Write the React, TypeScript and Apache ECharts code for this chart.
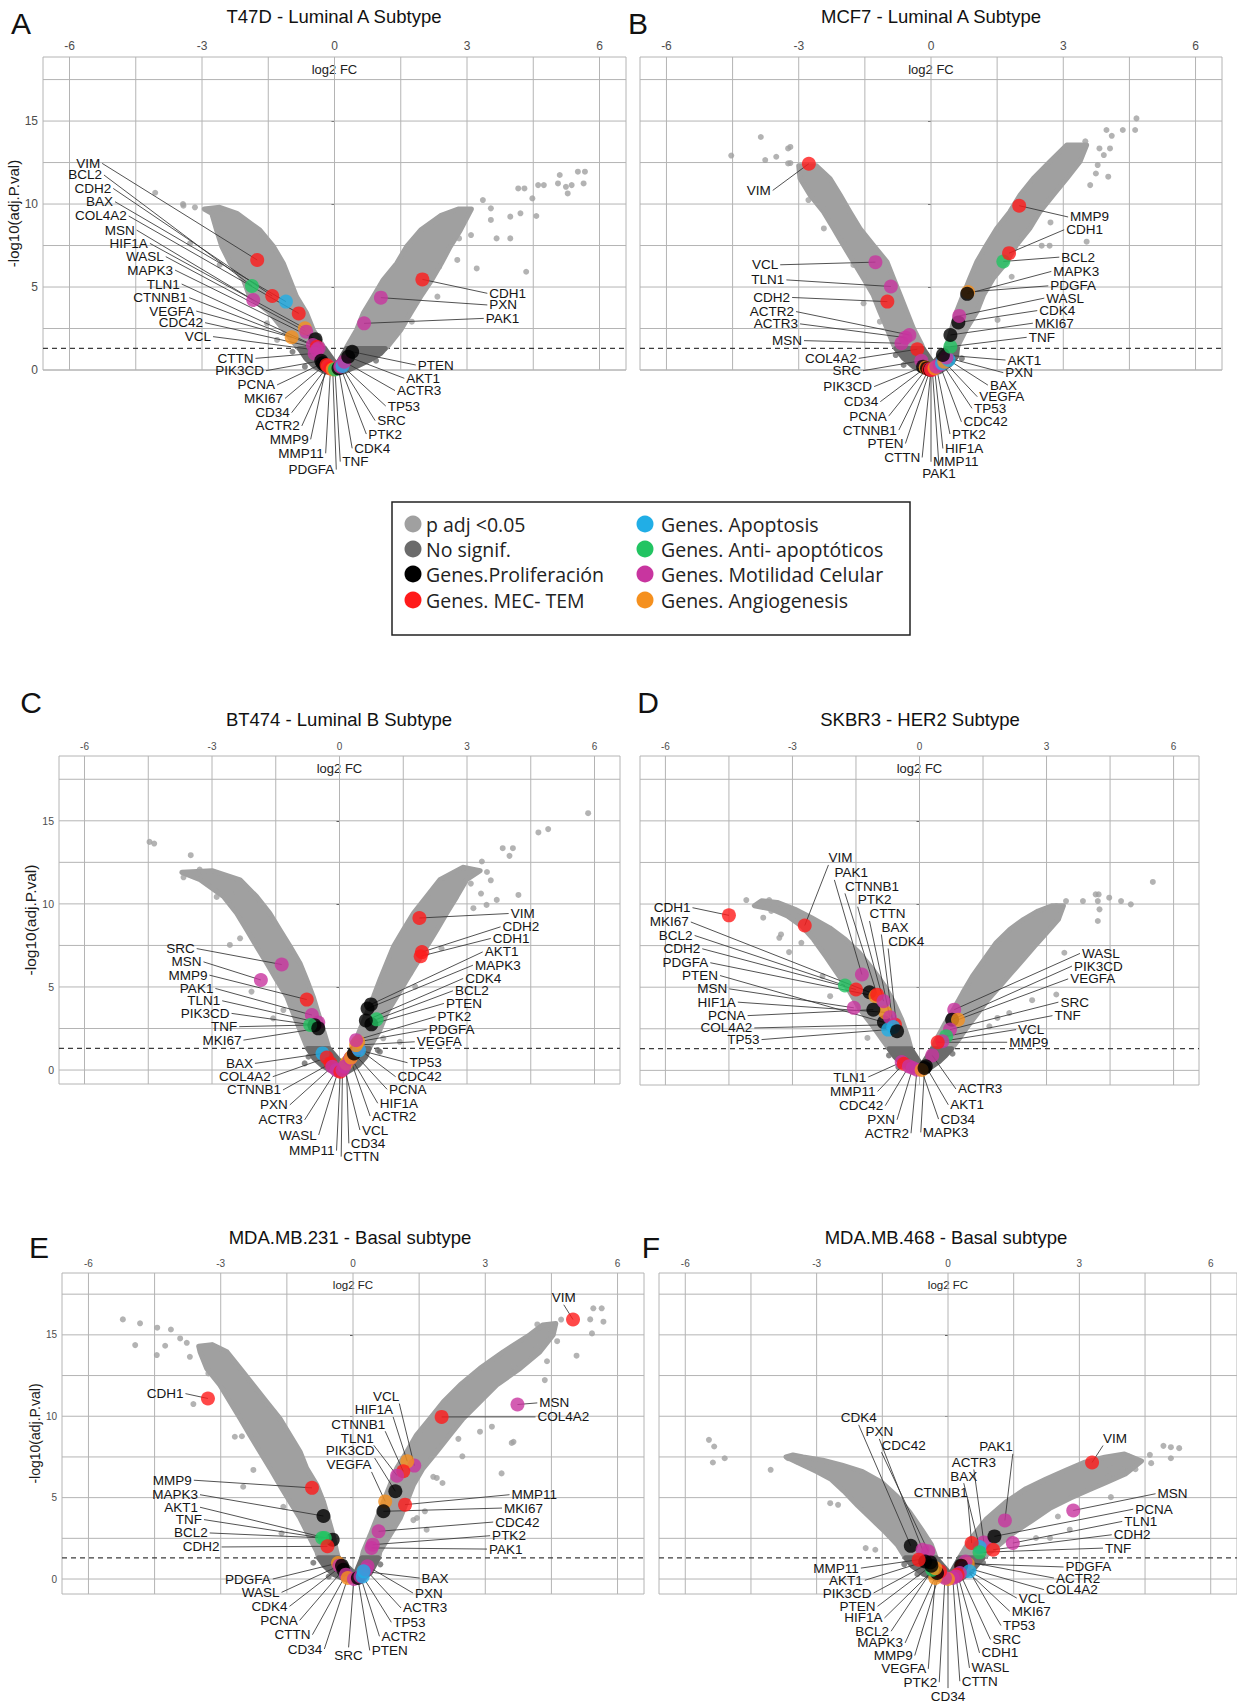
import React, { useEffect, useRef } from "react";
import * as echarts from "echarts";

type Gene = [string, number, number];
type Lab = [number, number, string];
type Pt = [number, number];

// ---------- shared scales / categories ----------
const X_LABELS = [-6, -3, 0, 3, 6];
const X_GRID = [-6, -4.5, -3, -1.5, 0, 1.5, 3, 4.5, 6];
const Y_LABELS = [0, 5, 10, 15];
const Y_GRID = [0, 2.5, 5, 7.5, 10, 12.5, 15, 17.5];
const P_CUT = 1.301;
const X_MIN = -6.6;
const X_MAX = 6.6;
const Y_NAME = "-log10(adj.P.val)";
const X_NAME = "log2 FC";

const CATEGORIES = [
  "p adj <0.05",
  "No signif.",
  "Genes.Proliferación",
  "Genes. MEC- TEM",
  "Genes. Apoptosis",
  "Genes. Anti- apoptóticos",
  "Genes. Motilidad Celular",
  "Genes. Angiogenesis",
];

const GENE_CATEGORY: Record<string, number> = {
  MAPK3: 2, AKT1: 2, PIK3CD: 2, MKI67: 2, CDK4: 2, PCNA: 2, PTEN: 2,
  VIM: 3, CDH1: 3, CDH2: 3, MMP9: 3, MMP11: 3, COL4A2: 3, CTNNB1: 3,
  BAX: 4, TP53: 4,
  BCL2: 5, TNF: 5,
  MSN: 6, VCL: 6, TLN1: 6, PAK1: 6, PTK2: 6, CDC42: 6, PXN: 6, WASL: 6, ACTR2: 6, ACTR3: 6, CTTN: 6, SRC: 6,
  VEGFA: 7, HIF1A: 7, PDGFA: 7, CD34: 7,
};

// ---------- Panel A : T47D ----------
const A_GENES: Gene[] = [
  ["VIM", -1.75, 6.63], ["BCL2", -1.87, 5.06], ["CDH2", -1.41, 4.46], ["BAX", -1.10, 4.12], ["COL4A2", -0.81, 3.41],
  ["MSN", -1.84, 4.22], ["HIF1A", -0.67, 2.51], ["WASL", -0.64, 2.31], ["MAPK3", -0.43, 1.85], ["TLN1", -0.49, 1.51],
  ["CTNNB1", -0.40, 1.40], ["VEGFA", -0.97, 1.97], ["CDC42", -0.36, 1.31], ["VCL", -0.40, 1.20], ["CTTN", -0.45, 1.00],
  ["PIK3CD", -0.30, 0.56], ["PCNA", -0.27, 0.40], ["MKI67", -0.22, 0.30], ["CD34", -0.15, 0.24], ["ACTR2", -0.13, 0.20],
  ["MMP9", -0.18, 0.30], ["MMP11", -0.09, 0.10], ["PDGFA", -0.04, 0.04], ["TNF", 0.01, 0.04], ["CDK4", 0.09, 0.10],
  ["PTK2", 0.13, 0.20], ["SRC", 0.15, 0.24], ["TP53", 0.18, 0.24], ["ACTR3", 0.22, 0.50], ["AKT1", 0.31, 0.80],
  ["PTEN", 0.40, 1.10], ["CDH1", 1.99, 5.46], ["PXN", 1.05, 4.36], ["PAK1", 0.67, 2.81],
];
const A_LABELS: Lab[] = [
  [-5.26, 12.45, "l"], [-5.22, 11.75, "l"], [-5.01, 10.94, "l"], [-4.97, 10.14, "l"], [-4.66, 9.28, "l"],
  [-4.48, 8.43, "l"], [-4.18, 7.63, "l"], [-3.82, 6.83, "l"], [-3.61, 6.02, "l"], [-3.46, 5.18, "l"],
  [-3.29, 4.36, "l"], [-3.13, 3.55, "l"], [-2.93, 2.85, "l"], [-2.75, 2.01, "l"], [-1.79, 0.70, "l"],
  [-1.55, -0.04, "l"], [-1.30, -0.90, "l"], [-1.12, -1.71, "l"], [-0.97, -2.57, "l"], [-0.74, -3.37, "l"],
  [-0.54, -4.18, "l"], [-0.20, -5.02, "l"], [0.04, -6.0, "l"], [0.13, -5.52, "r"], [0.40, -4.72, "r"],
  [0.72, -3.86, "r"], [0.92, -3.05, "r"], [1.16, -2.17, "r"], [1.37, -1.24, "r"], [1.58, -0.50, "r"],
  [1.84, 0.30, "r"], [3.46, 4.62, "r"], [3.46, 3.92, "r"], [3.38, 3.11, "r"],
];
const A_SIG_LEFT: Pt[] = [
  [-2.95, 9.70], [-2.78, 9.44], [-2.67, 8.43], [-2.55, 7.43], [-2.36, 6.43], [-2.06, 5.42], [-1.92, 4.42], [-1.45, 3.41],
  [-1.15, 2.41], [-0.85, 1.40], [-0.80, 1.30], [-0.22, 1.30], [-0.25, 1.40], [-0.48, 2.41], [-0.63, 3.41], [-0.86, 4.42],
  [-1.01, 5.42], [-1.16, 6.43], [-1.38, 7.43], [-1.69, 8.43], [-2.21, 9.44], [-2.60, 9.80],
];
const A_SIG_RIGHT: Pt[] = [
  [3.10, 9.70], [2.85, 8.43], [2.62, 7.43], [2.42, 6.43], [2.20, 5.42], [1.95, 4.42], [1.72, 3.41], [1.50, 2.41],
  [1.20, 1.40], [1.15, 1.30], [0.27, 1.30], [0.28, 1.40], [0.50, 2.41], [0.65, 3.41], [0.88, 4.42], [1.10, 5.42],
  [1.41, 6.43], [1.63, 7.43], [1.95, 8.43], [2.40, 9.30], [2.80, 9.70],
];
const A_NS: Pt[] = [
  [-0.80, 1.30], [-0.65, 0.70], [-0.45, 0.20], [-0.22, -0.10], [0, -0.16], [0.22, -0.10], [0.49, 0.20], [0.80, 0.60],
  [1.05, 1.0], [1.15, 1.30], [0.27, 1.30], [0.05, 0.30], [-0.22, 1.30],
];
const A_OUT: Pt[] = [
  [-4.06, 10.68], [-3.43, 10.0], [-3.16, 9.8], [-3.42, 9.9], [-3.27, 7.63], [-2.6, 6.33], [-1.53, 2.81], [-1.3, 1.81],
  [3.22, 6.12], [2.82, 7.93], [3.09, 8.13], [3.36, 10.24], [3.54, 9.74], [3.54, 9.04], [3.67, 7.93], [3.98, 7.93],
  [3.98, 9.24], [4.21, 9.44], [4.57, 9.28], [4.16, 10.94], [4.30, 10.94], [4.48, 10.34], [4.61, 11.14], [4.74, 11.14],
  [5.06, 11.24], [5.10, 11.75], [5.24, 11.04], [5.28, 10.64], [5.37, 11.14], [5.51, 11.95], [5.67, 11.95], [5.64, 11.24],
  [4.34, 5.92], [2.33, 4.42], [1.75, 2.91], [1.84, 4.62], [2.78, 6.63], [2.37, 6.22],
];
const A_NS_OUT: Pt[] = [[-0.67, 0.20], [0.94, 0.56], [-0.95, 1.1], [0.88, 0.9]];

// ---------- Panel B : MCF7 ----------
const B_GENES: Gene[] = [
  ["VIM", -2.77, 12.43], ["VCL", -1.26, 6.50], ["TLN1", -0.91, 5.03], ["CDH2", -0.99, 4.12], ["ACTR2", -0.49, 2.11],
  ["ACTR3", -0.58, 1.95], ["MSN", -0.67, 1.61], ["COL4A2", -0.31, 1.25], ["SRC", -0.22, 0.56], ["PIK3CD", -0.18, 0.20],
  ["CD34", -0.12, 0.15], ["PCNA", -0.09, 0.10], ["CTNNB1", -0.05, 0.05], ["PTEN", -0.02, 0.02], ["CTTN", 0.0, 0.05],
  ["PAK1", 0.03, 0.02], ["MMP11", 0.0, 0.0], ["HIF1A", 0.08, 0.10], ["PTK2", 0.12, 0.20], ["CDC42", 0.20, 0.30],
  ["TP53", 0.25, 0.40], ["VEGFA", 0.30, 0.50], ["BAX", 0.40, 0.60], ["PXN", 0.35, 0.75], ["AKT1", 0.27, 0.91],
  ["TNF", 0.44, 1.41], ["MKI67", 0.44, 2.11], ["CDK4", 0.62, 2.86], ["WASL", 0.64, 3.26], ["PDGFA", 0.84, 4.70],
  ["MAPK3", 0.82, 4.59], ["BCL2", 1.64, 6.54], ["CDH1", 1.77, 7.04], ["MMP9", 2.00, 9.90],
];
const B_LABELS: Lab[] = [
  [-3.59, 10.82, "l"], [-3.42, 6.34, "l"], [-3.28, 5.43, "l"], [-3.15, 4.37, "l"], [-3.06, 3.52, "l"],
  [-2.97, 2.78, "l"], [-2.88, 1.77, "l"], [-1.64, 0.70, "l"], [-1.54, -0.04, "l"], [-1.29, -1.00, "l"],
  [-1.15, -1.91, "l"], [-0.96, -2.78, "l"], [-0.73, -3.62, "l"], [-0.58, -4.43, "l"], [-0.20, -5.27, "l"],
  [0.18, -5.73, "b"], [0.0, -5.53, "r"], [0.27, -4.73, "r"], [0.43, -3.86, "r"], [0.69, -3.12, "r"],
  [0.93, -2.31, "r"], [1.05, -1.61, "r"], [1.29, -0.91, "r"], [1.64, -0.16, "r"], [1.69, 0.60, "r"],
  [2.17, 1.97, "r"], [2.31, 2.82, "r"], [2.41, 3.58, "r"], [2.57, 4.33, "r"], [2.66, 5.07, "r"],
  [2.73, 5.94, "r"], [2.91, 6.80, "r"], [3.02, 8.45, "r"], [3.11, 9.22, "r"],
];
const B_SIG_LEFT: Pt[] = [
  [-3.00, 12.30], [-2.97, 11.54], [-2.74, 10.54], [-2.44, 9.54], [-2.21, 8.53], [-1.99, 7.53], [-1.76, 6.52], [-1.53, 5.52],
  [-1.31, 4.52], [-1.16, 3.51], [-1.00, 2.51], [-0.85, 1.51], [-0.80, 1.30], [-0.18, 1.30], [-0.21, 1.51], [-0.40, 2.51],
  [-0.55, 3.51], [-0.70, 4.52], [-0.85, 5.52], [-1.00, 6.52], [-1.31, 7.53], [-1.61, 8.53], [-1.84, 9.54], [-2.06, 10.54],
  [-2.29, 11.54], [-2.60, 12.30],
];
const B_SIG_RIGHT: Pt[] = [
  [3.53, 13.55], [3.38, 12.56], [3.08, 11.54], [2.77, 10.54], [2.47, 9.54], [2.24, 8.53], [1.94, 7.53], [1.72, 6.52],
  [1.41, 5.52], [1.19, 4.52], [1.04, 3.51], [0.81, 2.51], [0.62, 1.51], [0.60, 1.30], [0.34, 1.30], [0.36, 1.51],
  [0.47, 2.51], [0.58, 3.51], [0.73, 4.52], [0.88, 5.52], [1.04, 6.52], [1.26, 7.53], [1.49, 8.53], [1.79, 9.54],
  [2.02, 10.54], [2.32, 11.54], [2.70, 12.56], [3.08, 13.55],
];
const B_NS: Pt[] = [
  [-0.80, 1.30], [-0.62, 0.70], [-0.40, 0.20], [-0.15, -0.10], [0, -0.15], [0.20, -0.10], [0.42, 0.30], [0.58, 0.80],
  [0.60, 1.30], [0.34, 1.30], [0.05, 0.40], [-0.18, 1.30],
];
const B_OUT: Pt[] = [
  [-4.53, 12.92], [-3.86, 14.04], [-3.76, 12.65], [-3.51, 12.85], [-3.24, 13.35], [-3.24, 12.45], [-3.19, 13.44],
  [-3.19, 12.47], [-2.88, 11.47], [-2.78, 10.24], [-2.41, 9.66], [-2.43, 8.53], [-1.99, 7.73], [-1.76, 6.33],
  [-1.53, 5.62], [-1.53, 4.02], [-1.16, 2.91], [4.66, 15.16], [4.63, 14.46], [4.35, 14.46], [3.98, 14.46], [4.10, 14.11],
  [4.06, 13.35], [3.82, 13.35], [3.92, 12.95], [3.78, 12.35], [4.02, 11.65], [3.61, 11.14], [3.74, 11.84], [3.50, 13.78],
  [2.71, 8.89], [2.51, 7.49], [2.69, 7.49], [3.53, 7.73], [1.83, 5.62], [1.51, 3.02],
];
const B_NS_OUT: Pt[] = [[-0.8, 0.9], [0.7, 0.7], [-0.62, 0.3]];

// ---------- Panel C : BT474 ----------
const C_GENES: Gene[] = [
  ["SRC", -1.36, 6.35], ["MSN", -1.85, 5.42], ["MMP9", -0.77, 4.24], ["PAK1", -0.65, 3.31], ["TLN1", -0.50, 2.86],
  ["PIK3CD", -0.59, 2.70], ["TNF", -0.69, 2.71], ["MKI67", -0.50, 2.51], ["BAX", -0.40, 1.00], ["COL4A2", -0.30, 0.75],
  ["CTNNB1", -0.21, 0.40], ["PXN", -0.17, 0.20], ["ACTR3", -0.07, 0.00], ["WASL", -0.03, -0.04], ["MMP11", 0.02, -0.10],
  ["CTTN", 0.07, 0.00], ["CD34", 0.16, 0.40], ["VCL", 0.11, 0.20], ["ACTR2", 0.25, 0.70], ["HIF1A", 0.27, 0.75],
  ["PCNA", 0.34, 1.00], ["CDC42", 0.44, 1.30], ["TP53", 0.46, 1.20], ["VEGFA", 0.39, 1.50], ["PDGFA", 0.44, 1.70],
  ["PTK2", 0.39, 1.80], ["PTEN", 0.75, 2.75], ["BCL2", 0.875, 3.05], ["CDK4", 0.62, 2.98], ["MAPK3", 0.66, 3.70],
  ["AKT1", 0.74, 3.95], ["CDH1", 1.91, 6.85], ["CDH2", 1.94, 7.10], ["VIM", 1.88, 9.15],
];
const C_LABELS: Lab[] = [
  [-3.36, 7.31, "l"], [-3.20, 6.51, "l"], [-3.06, 5.71, "l"], [-2.92, 4.91, "l"], [-2.76, 4.17, "l"],
  [-2.54, 3.41, "l"], [-2.36, 2.61, "l"], [-2.26, 1.80, "l"], [-1.99, 0.40, "l"], [-1.57, -0.40, "l"],
  [-1.33, -1.20, "l"], [-1.17, -2.10, "l"], [-0.82, -3.00, "l"], [-0.49, -3.91, "l"], [-0.07, -4.85, "l"],
  [0.04, -5.21, "r"], [0.22, -4.41, "r"], [0.48, -3.61, "r"], [0.72, -2.77, "r"], [0.90, -2.00, "r"],
  [1.12, -1.16, "r"], [1.32, -0.40, "r"], [1.60, 0.44, "r"], [1.77, 1.70, "r"], [2.05, 2.44, "r"],
  [2.26, 3.21, "r"], [2.46, 4.01, "r"], [2.67, 4.77, "r"], [2.91, 5.51, "r"], [3.14, 6.31, "r"],
  [3.37, 7.11, "r"], [3.56, 7.92, "r"], [3.79, 8.62, "r"], [3.98, 9.42, "r"],
];
const C_SIG_LEFT: Pt[] = [
  [-3.71, 11.90], [-3.28, 11.45], [-2.73, 10.44], [-2.42, 9.44], [-2.18, 8.43], [-1.95, 7.43], [-1.71, 6.43], [-1.48, 5.42],
  [-1.24, 4.42], [-1.09, 3.42], [-0.93, 2.41], [-0.77, 1.40], [-0.75, 1.30], [-0.25, 1.30], [-0.26, 1.40], [-0.38, 2.41],
  [-0.50, 3.42], [-0.62, 4.42], [-0.77, 5.42], [-0.93, 6.43], [-1.16, 7.43], [-1.40, 8.43], [-1.64, 9.44], [-1.95, 10.44],
  [-2.34, 11.45], [-3.00, 12.00],
];
const C_SIG_RIGHT: Pt[] = [
  [3.31, 12.00], [2.99, 11.45], [2.76, 10.44], [2.52, 9.44], [2.29, 8.43], [2.05, 7.43], [1.82, 6.43], [1.58, 5.42],
  [1.35, 4.42], [1.11, 3.42], [0.95, 2.41], [0.72, 1.40], [0.70, 1.30], [0.30, 1.30], [0.32, 1.40], [0.48, 2.41],
  [0.64, 3.42], [0.80, 4.42], [0.95, 5.42], [1.11, 6.43], [1.27, 7.43], [1.50, 8.43], [1.74, 9.44], [2.05, 10.44],
  [2.36, 11.45], [2.90, 12.20],
];
const C_NS: Pt[] = [
  [-0.75, 1.30], [-0.60, 0.70], [-0.40, 0.25], [-0.15, -0.10], [0, -0.20], [0.20, -0.10], [0.45, 0.30], [0.62, 0.80],
  [0.70, 1.30], [0.30, 1.30], [0.05, 0.40], [-0.25, 1.30],
];
const C_OUT: Pt[] = [
  [-4.47, 13.73], [-4.36, 13.63], [-3.50, 12.93], [-3.67, 11.60], [-3.43, 11.86], [-3.29, 12.06], [-3.20, 11.92],
  [-2.58, 7.53], [-2.34, 7.93], [-2.07, 4.72], [-1.32, 3.61], [-1.56, 3.11], [-2.42, 10.72], [-2.89, 10.42],
  [5.85, 15.46], [4.68, 14.30], [4.91, 14.50], [3.84, 13.35], [4.08, 13.35], [4.00, 12.89], [3.35, 12.55], [3.47, 11.92],
  [3.56, 11.42], [3.09, 11.22], [3.33, 10.62], [4.21, 10.54], [3.70, 10.24], [3.15, 9.74], [3.46, 9.94], [2.40, 7.33],
  [2.05, 7.03], [1.66, 5.82], [1.78, 5.02], [1.03, 1.91], [1.42, 1.70],
];
const C_NS_OUT: Pt[] = [[-0.73, 0.80], [-0.82, 0.40], [0.90, 1.2], [0.95, 1.1]];

// ---------- Panel D : SKBR3 ----------
const D_GENES: Gene[] = [
  ["CDH1", -4.50, 9.32], ["MKI67", -1.18, 4.70], ["BCL2", -1.76, 5.10], ["CDH2", -1.50, 4.86], ["PDGFA", -1.04, 4.46],
  ["PTEN", -0.84, 2.89], ["MSN", -1.55, 3.76], ["HIF1A", -0.81, 3.49], ["PCNA", -1.09, 3.65], ["COL4A2", -0.58, 2.75],
  ["TP53", -0.74, 2.45], ["VIM", -2.71, 8.71], ["PAK1", -1.36, 5.76], ["CTNNB1", -1.00, 4.55], ["PTK2", -0.85, 4.16],
  ["CTTN", -0.70, 3.20], ["BAX", -0.62, 2.60], ["CDK4", -0.53, 2.35], ["WASL", 0.82, 3.65], ["PIK3CD", 0.77, 3.05],
  ["VEGFA", 0.91, 3.05], ["SRC", 0.72, 2.45], ["TNF", 0.63, 2.05], ["VCL", 0.54, 1.75], ["MMP9", 0.43, 1.69],
  ["TLN1", -0.42, 0.50], ["MMP11", -0.37, 0.40], ["CDC42", -0.25, 0.24], ["PXN", -0.16, 0.14], ["ACTR2", -0.06, 0.04],
  ["ACTR3", 0.30, 0.90], ["AKT1", 0.15, 0.24], ["CD34", 0.05, 0.02], ["MAPK3", 0.12, 0.14],
];
const D_LABELS: Lab[] = [
  [-5.36, 9.78, "l"], [-5.40, 8.92, "l"], [-5.31, 8.11, "l"], [-5.13, 7.31, "l"], [-4.94, 6.47, "l"],
  [-4.71, 5.70, "l"], [-4.49, 4.90, "l"], [-4.29, 4.10, "l"], [-4.06, 3.29, "l"], [-3.90, 2.55, "l"],
  [-3.73, 1.85, "l"], [-2.15, 12.35, "tr"], [-2.01, 11.45, "tr"], [-1.76, 10.64, "tr"], [-1.46, 9.84, "tr"],
  [-1.18, 8.98, "tr"], [-0.90, 8.17, "tr"], [-0.74, 7.33, "tr"], [3.79, 7.03, "r"], [3.60, 6.27, "r"],
  [3.51, 5.50, "r"], [3.28, 4.10, "r"], [3.14, 3.29, "r"], [2.28, 2.45, "r"], [2.07, 1.69, "r"],
  [-1.21, -0.40, "l"], [-0.99, -1.27, "l"], [-0.81, -2.13, "l"], [-0.53, -2.97, "l"], [-0.20, -3.78, "l"],
  [0.86, -1.12, "r"], [0.68, -2.07, "r"], [0.45, -2.93, "r"], [0.03, -3.73, "r"],
];
const D_SIG_LEFT: Pt[] = [
  [-3.90, 9.90], [-3.50, 9.70], [-3.12, 9.28], [-2.78, 8.67], [-2.50, 7.87], [-2.22, 6.87], [-1.95, 5.86], [-1.68, 4.86],
  [-1.40, 3.65], [-1.10, 2.65], [-0.85, 1.75], [-0.72, 1.30], [-0.20, 1.30], [-0.28, 2.05], [-0.42, 3.05], [-0.60, 4.06],
  [-0.82, 5.06], [-1.10, 6.06], [-1.42, 7.07], [-1.75, 7.87], [-2.12, 8.57], [-2.55, 9.18], [-2.94, 9.68], [-3.36, 10.10],
  [-3.73, 10.20],
];
const D_SIG_RIGHT: Pt[] = [
  [3.40, 9.90], [3.28, 9.08], [3.00, 8.27], [2.72, 7.47], [2.45, 6.67], [2.17, 5.86], [1.90, 5.06], [1.62, 4.26],
  [1.38, 3.45], [1.14, 2.65], [0.95, 1.95], [0.76, 1.30], [0.30, 1.30], [0.44, 2.05], [0.61, 2.85], [0.80, 3.65],
  [1.02, 4.66], [1.25, 5.66], [1.53, 6.67], [1.81, 7.67], [2.13, 8.47], [2.46, 9.08], [2.80, 9.58], [3.14, 9.90],
];
const D_NS: Pt[] = [
  [-0.72, 1.30], [-0.58, 0.80], [-0.42, 0.40], [-0.20, 0.05], [0, -0.10], [0.20, 0.05], [0.45, 0.50], [0.62, 0.90],
  [0.76, 1.30], [0.30, 1.30], [0.05, 0.30], [-0.20, 1.30],
];
const D_OUT: Pt[] = [
  [-4.09, 10.24], [-3.55, 10.24], [-3.69, 9.18], [-3.50, 9.58], [-3.36, 9.68], [-3.27, 8.17], [-3.31, 7.97], [-3.08, 7.11],
  [-2.79, 7.67], [-2.29, 5.66], [-2.11, 4.46], [-1.23, 1.95], [5.51, 11.33], [4.16, 10.58], [4.23, 10.58], [4.48, 10.38],
  [4.76, 10.18], [4.99, 9.98], [4.21, 10.18], [4.25, 9.68], [3.86, 10.18], [3.46, 10.18], [3.23, 9.88], [4.21, 8.98],
  [3.42, 7.07], [3.23, 4.56], [2.66, 4.22], [2.12, 3.45], [1.84, 3.15], [1.65, 2.65],
];
const D_NS_OUT: Pt[] = [[-0.72, 0.9], [0.78, 1.0], [-0.5, 0.2]];

// ---------- Panel E : MDA.MB.231 ----------
const E_GENES: Gene[] = [
  ["CDH1", -3.29, 11.09], ["MMP9", -0.93, 5.60], ["MAPK3", -0.67, 3.87], ["AKT1", -0.46, 2.42], ["TNF", -0.70, 2.52],
  ["BCL2", -0.64, 2.52], ["CDH2", -0.58, 2.01], ["VCL", 1.39, 6.97], ["HIF1A", 1.23, 7.23], ["CTNNB1", 1.14, 6.62],
  ["TLN1", 1.00, 6.35], ["PIK3CD", 0.96, 5.39], ["VEGFA", 0.73, 4.77], ["VIM", 4.99, 15.94], ["MSN", 3.73, 10.72],
  ["COL4A2", 2.01, 9.96], ["MMP11", 1.18, 4.57], ["MKI67", 0.69, 4.16], ["CDC42", 0.58, 2.93], ["PTK2", 0.45, 2.11],
  ["PAK1", 0.42, 1.91], ["PDGFA", -0.34, 0.98], ["WASL", -0.31, 0.82], ["CDK4", -0.25, 0.82], ["PCNA", -0.22, 0.57],
  ["CTTN", -0.16, 0.27], ["CD34", -0.12, 0.06], ["SRC", 0.02, 0.00], ["PTEN", 0.11, 0.06], ["ACTR2", 0.17, 0.16],
  ["TP53", 0.22, 0.16], ["ACTR3", 0.29, 0.57], ["PXN", 0.33, 0.78], ["BAX", 0.24, 0.47],
];
const E_LABELS: Lab[] = [
  [-3.80, 11.39, "l"], [-3.61, 6.07, "l"], [-3.47, 5.18, "l"], [-3.47, 4.41, "l"], [-3.38, 3.65, "l"],
  [-3.25, 2.83, "l"], [-2.98, 1.97, "l"], [1.05, 10.78, "tl"], [0.91, 9.96, "tl"], [0.73, 9.08, "tl"],
  [0.47, 8.22, "tl"], [0.49, 7.44, "tl"], [0.42, 6.58, "tl"], [4.78, 16.85, "t"], [4.18, 10.82, "r"],
  [4.14, 9.96, "r"], [3.55, 5.18, "r"], [3.38, 4.36, "r"], [3.18, 3.50, "r"], [3.11, 2.66, "r"],
  [3.04, 1.84, "r"], [-1.82, 0.00, "l"], [-1.62, -0.82, "l"], [-1.44, -1.68, "l"], [-1.21, -2.54, "l"],
  [-0.92, -3.42, "l"], [-0.65, -4.30, "l"], [-0.10, -4.20, "b"], [0.38, -4.39, "r"], [0.60, -3.52, "r"],
  [0.87, -2.66, "r"], [1.09, -1.78, "r"], [1.36, -0.86, "r"], [1.51, 0.06, "r"],
];
const E_SIG_LEFT: Pt[] = [
  [-3.50, 14.30], [-3.47, 13.96], [-3.32, 12.94], [-3.02, 11.92], [-2.79, 10.89], [-2.56, 9.87], [-2.34, 8.85],
  [-2.11, 7.82], [-1.88, 6.80], [-1.66, 5.77], [-1.43, 4.75], [-1.20, 3.73], [-1.01, 2.70], [-0.82, 1.68], [-0.78, 1.30],
  [-0.33, 1.30], [-0.37, 1.68], [-0.45, 2.70], [-0.56, 3.73], [-0.67, 4.75], [-0.82, 5.77], [-1.05, 6.80], [-1.20, 7.82],
  [-1.43, 8.85], [-1.66, 9.87], [-1.96, 10.89], [-2.26, 11.92], [-2.56, 12.94], [-2.86, 13.96], [-3.20, 14.40],
];
const E_SIG_RIGHT: Pt[] = [
  [4.60, 15.70], [4.54, 15.00], [4.24, 13.96], [3.79, 12.94], [3.26, 11.92], [2.88, 10.89], [2.50, 9.87], [2.20, 8.85],
  [1.90, 7.82], [1.59, 6.80], [1.37, 5.77], [1.22, 4.75], [1.07, 3.73], [0.84, 2.70], [0.61, 1.68], [0.58, 1.30],
  [0.20, 1.30], [0.23, 1.68], [0.39, 2.70], [0.54, 3.73], [0.69, 4.75], [0.84, 5.77], [0.99, 6.80], [1.22, 7.82],
  [1.44, 8.85], [1.75, 9.87], [2.05, 10.89], [2.43, 11.92], [2.88, 12.94], [3.41, 13.96], [4.01, 15.00], [4.30, 15.60],
];
const E_NS: Pt[] = [
  [-0.78, 1.30], [-0.65, 0.80], [-0.45, 0.30], [-0.20, 0.0], [0, -0.15], [0.20, -0.05], [0.40, 0.40], [0.58, 1.30],
  [0.20, 1.30], [0.05, 0.30], [-0.33, 1.30],
];
const E_OUT: Pt[] = [
  [-5.22, 15.95], [-4.83, 15.71], [-4.44, 15.44], [-4.94, 14.37], [-4.45, 13.76], [-4.26, 14.33], [-3.92, 14.78],
  [-3.70, 13.65], [-4.13, 15.33], [-3.77, 14.51], [-3.62, 10.75], [-3.28, 12.63], [-2.68, 8.74], [-2.26, 6.70],
  [-2.49, 5.67], [-1.62, 2.81], [-1.58, 4.44], [-2.52, 8.77], [5.45, 16.63], [5.64, 16.63], [5.38, 15.95], [5.68, 15.81],
  [5.42, 15.09], [5.07, 13.72], [4.63, 14.61], [4.49, 15.33], [4.18, 15.64], [4.72, 15.94], [4.40, 13.38], [4.35, 12.22],
  [4.17, 14.27], [3.64, 13.07], [3.64, 8.43], [3.37, 6.49], [2.88, 9.05], [3.15, 9.36], [3.60, 8.36], [2.39, 8.61],
  [2.48, 7.54], [1.90, 6.21], [1.82, 6.28], [2.03, 5.90], [1.63, 4.16], [1.67, 3.03], [1.45, 3.75], [1.37, 3.62],
];
const E_NS_OUT: Pt[] = [[-0.9, 1.0], [0.62, 0.9], [-0.55, 0.15]];

// ---------- Panel F : MDA.MB.468 ----------
const F_GENES: Gene[] = [
  ["CDK4", -0.85, 2.04], ["PXN", -0.58, 1.80], ["CDC42", -0.45, 1.70], ["PAK1", 1.30, 3.60], ["ACTR3", 0.82, 2.25],
  ["BAX", 0.72, 1.96], ["CTNNB1", 0.54, 2.21], ["VIM", 3.29, 7.16], ["MSN", 2.86, 4.21], ["PCNA", 1.06, 2.62],
  ["TLN1", 1.48, 2.21], ["CDH2", 1.03, 1.80], ["TNF", 0.72, 1.64], ["PDGFA", 0.45, 0.94], ["ACTR2", 0.40, 1.08],
  ["COL4A2", 0.31, 0.78], ["VCL", 0.36, 0.67], ["MKI67", 0.30, 0.82], ["TP53", 0.49, 0.47], ["SRC", 0.27, 0.37],
  ["CDH1", 0.22, 0.27], ["WASL", 0.18, 0.16], ["CTTN", 0.11, 0.06], ["CD34", 0.00, 0.00], ["PTK2", -0.07, 0.06],
  ["VEGFA", -0.29, 0.06], ["MMP9", -0.18, 0.47], ["MAPK3", -0.25, 0.37], ["BCL2", -0.36, 0.57], ["HIF1A", -0.29, 0.67],
  ["PTEN", -0.38, 0.82], ["PIK3CD", -0.40, 1.02], ["AKT1", -0.52, 1.08], ["MMP11", -0.67, 1.19],
];
const F_LABELS: Lab[] = [
  [-2.04, 9.47, "t"], [-1.57, 8.61, "t"], [-1.52, 7.79, "tr"], [1.48, 7.69, "tl"], [0.59, 6.73, "t"],
  [0.36, 5.89, "t"], [0.45, 4.89, "tl"], [3.54, 8.20, "tr"], [4.74, 5.24, "r"], [4.23, 4.29, "r"],
  [3.98, 3.54, "r"], [3.74, 2.72, "r"], [3.54, 1.90, "r"], [2.64, 0.74, "r"], [2.42, 0.06, "r"],
  [2.19, -0.65, "r"], [1.57, -1.17, "r"], [1.41, -1.98, "r"], [1.21, -2.86, "r"], [0.97, -3.72, "r"],
  [0.72, -4.54, "r"], [0.49, -5.46, "r"], [0.27, -6.28, "r"], [0.00, -6.70, "b"], [-0.20, -6.34, "l"],
  [-0.45, -5.52, "l"], [-0.76, -4.70, "l"], [-0.98, -3.93, "l"], [-1.30, -3.21, "l"], [-1.45, -2.39, "l"],
  [-1.61, -1.68, "l"], [-1.70, -0.86, "l"], [-1.90, -0.08, "l"], [-1.99, 0.67, "l"],
];
const F_SIG_LEFT: Pt[] = [
  [-3.70, 7.50], [-3.35, 7.05], [-3.00, 6.60], [-2.68, 6.15], [-2.38, 5.40], [-2.06, 4.50], [-1.75, 3.70], [-1.44, 2.90],
  [-1.16, 2.11], [-0.97, 1.30], [-0.27, 1.30], [-0.38, 2.11], [-0.60, 3.03], [-0.86, 4.05], [-1.16, 5.07], [-1.52, 5.95],
  [-1.95, 6.60], [-2.42, 7.00], [-2.86, 7.30], [-3.31, 7.50], [-3.54, 7.62],
];
const F_SIG_RIGHT: Pt[] = [
  [0.26, 1.30], [0.52, 2.45], [0.88, 3.70], [1.32, 4.72], [1.78, 5.55], [2.24, 6.15], [2.69, 6.68], [3.13, 7.18],
  [3.58, 7.48], [4.03, 7.68], [4.42, 7.25], [4.05, 6.45], [3.60, 5.92], [3.24, 5.50], [2.80, 4.98], [2.35, 4.38],
  [1.90, 3.56], [1.45, 2.75], [1.10, 1.95], [0.80, 1.30],
];
const F_NS: Pt[] = [
  [-0.97, 1.30], [-0.82, 0.80], [-0.56, 0.30], [-0.25, 0.0], [0, -0.15], [0.25, -0.05], [0.52, 0.40], [0.80, 1.30],
  [0.26, 1.30], [0.05, 0.30], [-0.27, 1.30],
];
const F_OUT: Pt[] = [
  [-5.46, 8.55], [-5.34, 8.14], [-5.10, 7.42], [-5.37, 7.16], [-4.05, 6.71], [-3.65, 7.42], [-3.45, 7.22], [-2.69, 4.66],
  [-2.51, 4.56], [-1.88, 1.90], [-1.66, 1.80], [4.92, 8.18], [5.09, 8.10], [5.28, 8.04], [5.09, 7.42], [4.61, 7.63],
  [4.64, 7.12], [4.28, 6.75], [3.98, 6.71], [3.72, 6.81], [4.12, 7.53], [3.72, 5.03], [3.67, 6.30], [2.51, 3.84],
  [2.33, 2.52], [2.01, 2.52], [2.78, 3.03],
];
const F_NS_OUT: Pt[] = [[-1.0, 0.9], [0.8, 1.0], [-0.7, 0.3]];

const PANELS = [
  { letter: "A", title: "T47D - Luminal A Subtype", genes: A_GENES, labels: A_LABELS, sig: [A_SIG_LEFT, A_SIG_RIGHT], ns: A_NS, out: A_OUT, nsOut: A_NS_OUT },
  { letter: "B", title: "MCF7 - Luminal A Subtype", genes: B_GENES, labels: B_LABELS, sig: [B_SIG_LEFT, B_SIG_RIGHT], ns: B_NS, out: B_OUT, nsOut: B_NS_OUT },
  { letter: "C", title: "BT474 - Luminal B Subtype", genes: C_GENES, labels: C_LABELS, sig: [C_SIG_LEFT, C_SIG_RIGHT], ns: C_NS, out: C_OUT, nsOut: C_NS_OUT },
  { letter: "D", title: "SKBR3 - HER2 Subtype", genes: D_GENES, labels: D_LABELS, sig: [D_SIG_LEFT, D_SIG_RIGHT], ns: D_NS, out: D_OUT, nsOut: D_NS_OUT },
  { letter: "E", title: "MDA.MB.231 - Basal subtype", genes: E_GENES, labels: E_LABELS, sig: [E_SIG_LEFT, E_SIG_RIGHT], ns: E_NS, out: E_OUT, nsOut: E_NS_OUT },
  { letter: "F", title: "MDA.MB.468 - Basal subtype", genes: F_GENES, labels: F_LABELS, sig: [F_SIG_LEFT, F_SIG_RIGHT], ns: F_NS, out: F_OUT, nsOut: F_NS_OUT },
];

// ---------- layout & style (kept separate from the data) ----------
const LAYOUT = [
  { left: 43, top: 57, width: 583, height: 313, yMin: 0, yMax: 18.86, letter: [21, 23], title: [334, 16], yLabels: true, tickFs: 12, yTickFs: 12, fcFs: 13, nameFs: 15, nameGap: 22 },
  { left: 640, top: 57, width: 582, height: 313, yMin: 0, yMax: 18.86, letter: [638, 23], title: [931, 16], yLabels: false, tickFs: 12, yTickFs: 12, fcFs: 13, nameFs: 15, nameGap: 22 },
  { left: 59, top: 756, width: 561, height: 328, yMin: -0.84, yMax: 18.9, letter: [31, 702], title: [339, 719], yLabels: true, tickFs: 10, yTickFs: 10.5, fcFs: 13, nameFs: 15.5, nameGap: 17 },
  { left: 640, top: 756, width: 559, height: 329, yMin: -0.88, yMax: 18.9, letter: [648, 702], title: [920, 719], yLabels: false, tickFs: 10, yTickFs: 10.5, fcFs: 13, nameFs: 15, nameGap: 17 },
  { left: 62, top: 1273, width: 582, height: 321, yMin: -0.92, yMax: 18.8, letter: [39, 1247], title: [350, 1237], yLabels: true, tickFs: 10, yTickFs: 10, fcFs: 11.5, nameFs: 14, nameGap: 17 },
  { left: 659, top: 1273, width: 578, height: 321, yMin: -0.92, yMax: 18.8, letter: [651, 1247], title: [946, 1237], yLabels: false, tickFs: 10, yTickFs: 10, fcFs: 11.5, nameFs: 14, nameGap: 17 },
];

const FONT = '"Liberation Sans", Arial, Helvetica, sans-serif';
const LEGEND_FONT = '"Open Sans", "Noto Sans", sans-serif';
const CAT_COLORS = ["#a0a0a0", "#6b6b6b", "#000000", "#ff1a1a", "#21aee6", "#22c462", "#c8359f", "#f5901e"];
const LIGHT = "#a0a0a0";
const DARK = "#6c6c6c";
const GRID_COLOR = "#b4b4b4";
const LABEL_FONT = `13.5px ${FONT}`;

function textStyle(text: string, font: string, fill: string, align: string, vAlign: string) {
  return { text, font, fill, align, verticalAlign: vAlign, textAlign: align, textVerticalAlign: vAlign };
}

function sideAlign(side: string): [string, string, number, number] {
  switch (side) {
    case "l": return ["right", "middle", -2, 0];
    case "r": return ["left", "middle", 2, 0];
    case "t": return ["center", "bottom", 0, 0];
    case "b": return ["center", "top", 0, 1];
    case "tl": return ["right", "bottom", 0, 0];
    case "tr": return ["left", "bottom", 0, 0];
    default: return ["left", "middle", 0, 0];
  }
}

function buildOption() {
  const grid: any[] = [];
  const xAxis: any[] = [];
  const yAxis: any[] = [];
  const series: any[] = [];
  const graphic: any[] = [];

  PANELS.forEach((P, i) => {
    const L = LAYOUT[i];
    grid.push({ left: L.left, top: L.top, width: L.width, height: L.height, show: true, borderColor: GRID_COLOR, borderWidth: 1, backgroundColor: "rgba(0,0,0,0)" });
    xAxis.push({
      gridIndex: i, type: "value", position: "top", min: X_MIN, max: X_MAX,
      axisLine: { show: false }, axisTick: { show: false }, splitLine: { show: false },
      axisLabel: { customValues: X_LABELS, fontSize: L.tickFs, color: "#4d4d4d", margin: 5, fontFamily: FONT },
    });
    yAxis.push({
      gridIndex: i, type: "value", min: L.yMin, max: L.yMax,
      axisLine: { show: false }, splitLine: { show: false },
      axisTick: { show: true, customValues: Y_LABELS, length: 3, lineStyle: { color: "#333" } },
      axisLabel: { show: L.yLabels, customValues: Y_LABELS, fontSize: L.yTickFs, color: "#4d4d4d", margin: 5, fontFamily: FONT },
      name: L.yLabels ? Y_NAME : "", nameLocation: "middle", nameRotate: 90, nameGap: L.nameGap,
      nameTextStyle: { fontSize: L.nameFs, color: "#1a1a1a", fontFamily: FONT },
    });

    const base = { xAxisIndex: i, yAxisIndex: i, silent: true };

    // grid lines + significance threshold
    series.push({
      ...base, type: "custom", z: 1, clip: false, data: [[0, 0]],
      renderItem: (_p: any, api: any) => {
        const ch: any[] = [];
        X_GRID.forEach((v) => {
          const a = api.coord([v, L.yMin]);
          const b = api.coord([v, L.yMax]);
          ch.push({ type: "line", shape: { x1: a[0], y1: a[1], x2: b[0], y2: b[1] }, style: { stroke: GRID_COLOR, lineWidth: 1 } });
        });
        Y_GRID.forEach((v) => {
          if (v < L.yMin || v > L.yMax) return;
          const a = api.coord([X_MIN, v]);
          const b = api.coord([X_MAX, v]);
          ch.push({ type: "line", shape: { x1: a[0], y1: a[1], x2: b[0], y2: b[1] }, style: { stroke: GRID_COLOR, lineWidth: 1 } });
        });
        const c = api.coord([X_MIN, P_CUT]);
        const d = api.coord([X_MAX, P_CUT]);
        ch.push({ type: "line", shape: { x1: c[0], y1: c[1], x2: d[0], y2: d[1] }, style: { stroke: "#3c3c3c", lineWidth: 1.2, lineDash: [5, 4] } });
        return { type: "group", children: ch };
      },
    });

    // dense gene clouds
    const polys = [...P.sig.map((p) => ({ pts: p, c: LIGHT })), { pts: P.ns, c: DARK }];
    series.push({
      ...base, type: "custom", z: 2, clip: false, data: polys.map(() => [0, 0]),
      renderItem: (params: any, api: any) => {
        const pg = polys[params.dataIndex];
        return {
          type: "polygon",
          shape: { points: pg.pts.map((p) => api.coord(p)) },
          style: { fill: pg.c, stroke: pg.c, lineWidth: 5, lineJoin: "round" },
        };
      },
    });

    // scattered genes
    series.push({ ...base, type: "scatter", z: 3, clip: false, symbolSize: 6, itemStyle: { color: LIGHT }, data: P.out });
    series.push({ ...base, type: "scatter", z: 3, clip: false, symbolSize: 6, itemStyle: { color: DARK }, data: P.nsOut });

    // leader lines
    series.push({
      ...base, type: "custom", z: 4, clip: false, data: P.genes.map(() => [0, 0]),
      renderItem: (params: any, api: any) => {
        const g = P.genes[params.dataIndex];
        const l = P.labels[params.dataIndex];
        const a = api.coord([g[1], g[2]]);
        const b = api.coord([l[0], l[1]]);
        return { type: "line", shape: { x1: a[0], y1: a[1], x2: b[0], y2: b[1] }, style: { stroke: "#333333", lineWidth: 0.85 } };
      },
    });

    // highlighted genes
    series.push({
      ...base, type: "scatter", z: 5, clip: false, symbolSize: 14,
      data: P.genes.map((g) => ({ value: [g[1], g[2]], itemStyle: { color: CAT_COLORS[GENE_CATEGORY[g[0]]] } })),
    });

    // gene labels
    series.push({
      ...base, type: "custom", z: 6, clip: false, data: P.genes.map(() => [0, 0]),
      renderItem: (params: any, api: any) => {
        const g = P.genes[params.dataIndex];
        const l = P.labels[params.dataIndex];
        const a = api.coord([l[0], l[1]]);
        const [al, va, dx, dy] = sideAlign(l[2]);
        return { type: "text", x: a[0] + dx, y: a[1] + dy, style: textStyle(g[0], LABEL_FONT, "#151515", al, va) };
      },
    });

    // titles, letters, x-axis name
    graphic.push({ type: "text", x: L.title[0], y: L.title[1], silent: true, style: textStyle(P.title, `18.5px ${FONT}`, "#111", "center", "middle") });
    graphic.push({ type: "text", x: L.letter[0], y: L.letter[1], silent: true, style: textStyle(P.letter, `30px ${FONT}`, "#111", "center", "middle") });
    graphic.push({ type: "text", x: L.left + L.width / 2, y: L.top + 12, silent: true, style: textStyle(X_NAME, `${L.fcFs}px ${FONT}`, "#222", "center", "middle") });
  });

  // legend box
  const LX = 392, LY = 502, LW = 518, LH = 133;
  graphic.push({ type: "rect", shape: { x: LX, y: LY, width: LW, height: LH }, silent: true, style: { fill: "#fff", stroke: "#222", lineWidth: 1.5 } });
  const rows = [524, 549, 574, 600];
  const cols = [[413, 426], [645, 661]];
  CATEGORIES.forEach((name, k) => {
    const col = cols[Math.floor(k / 4)];
    const y = rows[k % 4];
    graphic.push({ type: "circle", shape: { cx: col[0], cy: y, r: 8.5 }, silent: true, style: { fill: CAT_COLORS[k] } });
    graphic.push({ type: "text", x: col[1], y, silent: true, style: textStyle(name, `19.5px ${LEGEND_FONT}`, "#222", "left", "middle") });
  });

  return {
    animation: false,
    backgroundColor: "#ffffff",
    textStyle: { fontFamily: FONT },
    grid, xAxis, yAxis, series, graphic,
  };
}

export default function App() {
  const ref = useRef<HTMLDivElement>(null);
  useEffect(() => {
    document.body.style.margin = "0";
    const chart = echarts.init(ref.current as HTMLDivElement, null, { renderer: "svg" });
    chart.setOption(buildOption() as any);
    return () => chart.dispose();
  }, []);
  return <div ref={ref} style={{ width: 1237, height: 1705, background: "#fff" }} />;
}
